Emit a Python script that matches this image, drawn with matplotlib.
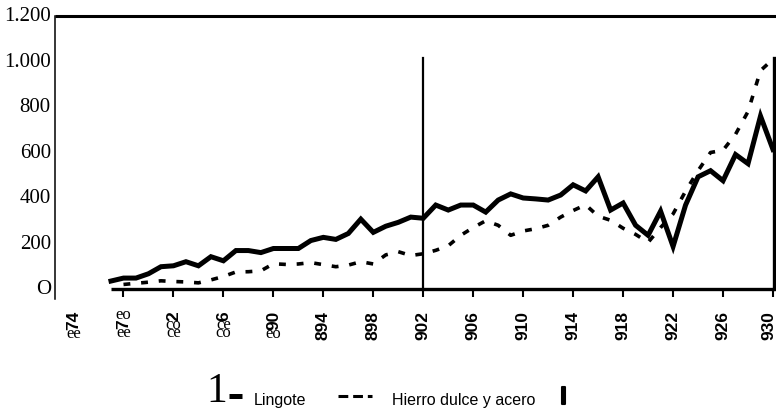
#!/usr/bin/env python3
"""Lingote vs hierro dulce y acero, 1877-1930 (scanned chart recreation)."""

import matplotlib

matplotlib.use("Agg")
import matplotlib.pyplot as plt
from matplotlib import patheffects
from matplotlib.lines import Line2D
from matplotlib.transforms import blended_transform_factory, offset_copy

# ---- data -----------------------------------------------------------------
LINGOTE_YEARS = list(range(1877, 1931))
LINGOTE = [
    35, 48, 48, 67, 98, 102, 120, 102, 142, 124,
    169, 169, 160, 178, 178, 178, 213, 227, 218, 244,
    307, 249, 276, 293, 316, 311, 369, 347, 369, 369,
    338, 391, 418, 400, 396, 391, 413, 458, 431, 493,
    347, 378, 280, 236, 342, 187, 369, 493, 520, 476,
    591, 551, 760, 613,
]
HIERRO_YEARS = list(range(1878, 1931))
HIERRO = [
    20, 25, 30, 36, 33, 31, 27, 40, 55, 75,
    76, 80, 111, 108, 110, 116, 107, 98, 105, 120,
    110, 150, 164, 147, 155, 170, 190, 236, 270, 300,
    280, 236, 255, 265, 280, 316, 345, 370, 320, 302,
    267, 240, 205, 270, 330, 430, 520, 600, 610, 680,
    780, 960, 1010,
]
Y_TICKS = [0, 200, 400, 600, 800, 1000, 1200]
Y_LABELS = ["O", "200", "400", "600", "800", "1.000", "1.200"]
X_TICKS = list(range(1878, 1931, 4))
X_LABELS_CLEAN = {1894: "894", 1898: "898", 1902: "902", 1906: "906",
                  1910: "910", 1914: "914", 1918: "918", 1922: "922",
                  1926: "926", 1930: "930"}
# garbled (scanned) labels: pieces from top to bottom, True = rotated
X_LABELS_GARBLED = {
    1874: [("74", True), ("ee", False)],
    1878: [("eo", False), ("7", True), ("ee", False)],
    1882: [("2", True), ("co", False), ("ce", False)],
    1886: [("6", True), ("ce", False), ("co", False)],
    1890: [("90", True), ("eo", False)],
}
LEGEND_SOLID = "Lingote"
LEGEND_DASHED = "Hierro dulce y acero"

W, H = 776, 410


def fx(px):
    return px / W


def fy(px):
    return 1.0 - px / H


def main():
    fig = plt.figure(figsize=(W / 100, H / 100), dpi=100, facecolor="white")
    left, right, top, bottom = 55, 773, 17, 290
    ax = fig.add_axes([fx(left), fy(bottom), (right - left) / W, (bottom - top) / H])
    x_per_year = (773 - 111) / (1930 - 1877)
    xmin = 1877 - (111 - left) / x_per_year
    ax.set_xlim(xmin, 1930)
    ax.set_ylim(0, 1200)
    for spine in ax.spines.values():
        spine.set_visible(False)
    ax.patch.set_visible(False)

    ink = "#000000"
    # frame pieces as in the scan
    ax.plot([xmin, 1930.4], [1200, 1200], color=ink, lw=2.2,
            clip_on=False, solid_capstyle="butt")
    ax.plot([xmin, xmin], [-44, 1200], color=ink, lw=1.1, clip_on=False)
    ax.plot([1877, 1930.1], [0, 0], color=ink, lw=2.4, clip_on=False,
            solid_capstyle="butt")
    ax.plot([1902, 1902], [0, 1015], color=ink, lw=1.6, clip_on=False)
    ax.plot([1930.1, 1930.1], [0, 1015], color=ink, lw=2.4, clip_on=False)

    ax.plot(LINGOTE_YEARS, LINGOTE, color=ink, lw=3.6, solid_joinstyle="miter",
            clip_on=False)
    ax.plot(HIERRO_YEARS, HIERRO, color=ink, lw=2.6, dashes=(1.9, 3.0),
            clip_on=False)

    # y labels
    ax.set_yticks(Y_TICKS, Y_LABELS, family="Liberation Serif", fontsize=15)
    ax.tick_params(axis="y", length=0, pad=3)
    for lab in ax.get_yticklabels():
        lab.set_verticalalignment("center")

    # x ticks
    ax.set_xticks(X_TICKS, [""] * len(X_TICKS))
    ax.tick_params(axis="x", direction="out", length=6, width=1.5, color=ink)

    trans = blended_transform_factory(ax.transData, fig.transFigure)
    for year, text in X_LABELS_CLEAN.items():
        shift = -4 if year == X_TICKS[-1] else 0
        t = offset_copy(trans, fig=fig, x=shift, units="dots")
        ax.text(year, fy(311), text, transform=t, rotation=90, ha="center",
                va="top", family="Liberation Sans", weight="bold", fontsize=12.5)

    row_px = 8.5
    for year, pieces in X_LABELS_GARBLED.items():
        y = 311
        for text, rotated in pieces:
            if rotated:
                ax.text(year, fy(y), text, transform=trans, rotation=90,
                        ha="center", va="top", family="Liberation Sans",
                        weight="bold", fontsize=12.5)
                y += 9.5 * len(text)
            else:
                ax.text(year, fy(y + row_px / 2), text, transform=trans,
                        ha="center", va="center", family="Liberation Serif",
                        fontsize=12)
                y += row_px

    # legend row
    fig.text(fx(206), fy(402), "1", family="Liberation Serif", fontsize=30,
             ha="left", va="baseline")
    fig.add_artist(Line2D([fx(229), fx(242)], [fy(397), fy(397)], color=ink,
                          lw=3.6, solid_capstyle="butt"))
    fig.text(fx(254), fy(405), LEGEND_SOLID, family="Liberation Sans",
             fontsize=11.5, ha="left", va="baseline")
    fig.add_artist(Line2D([fx(338), fx(372)], [fy(397), fy(397)], color=ink,
                          lw=2.2, dashes=(3.2, 1.6), solid_capstyle="butt"))
    fig.text(fx(392), fy(405), LEGEND_DASHED, family="Liberation Sans",
             fontsize=11.5, ha="left", va="baseline")
    bar = fig.text(fx(560), fy(405), "I", family="Liberation Sans",
                   weight="bold", fontsize=18, ha="left", va="baseline")
    bar.set_path_effects([patheffects.withStroke(linewidth=1.5, foreground=ink)])

    fig.savefig("out.png", dpi=100, facecolor="white")
    plt.close(fig)


if __name__ == "__main__":
    main()
